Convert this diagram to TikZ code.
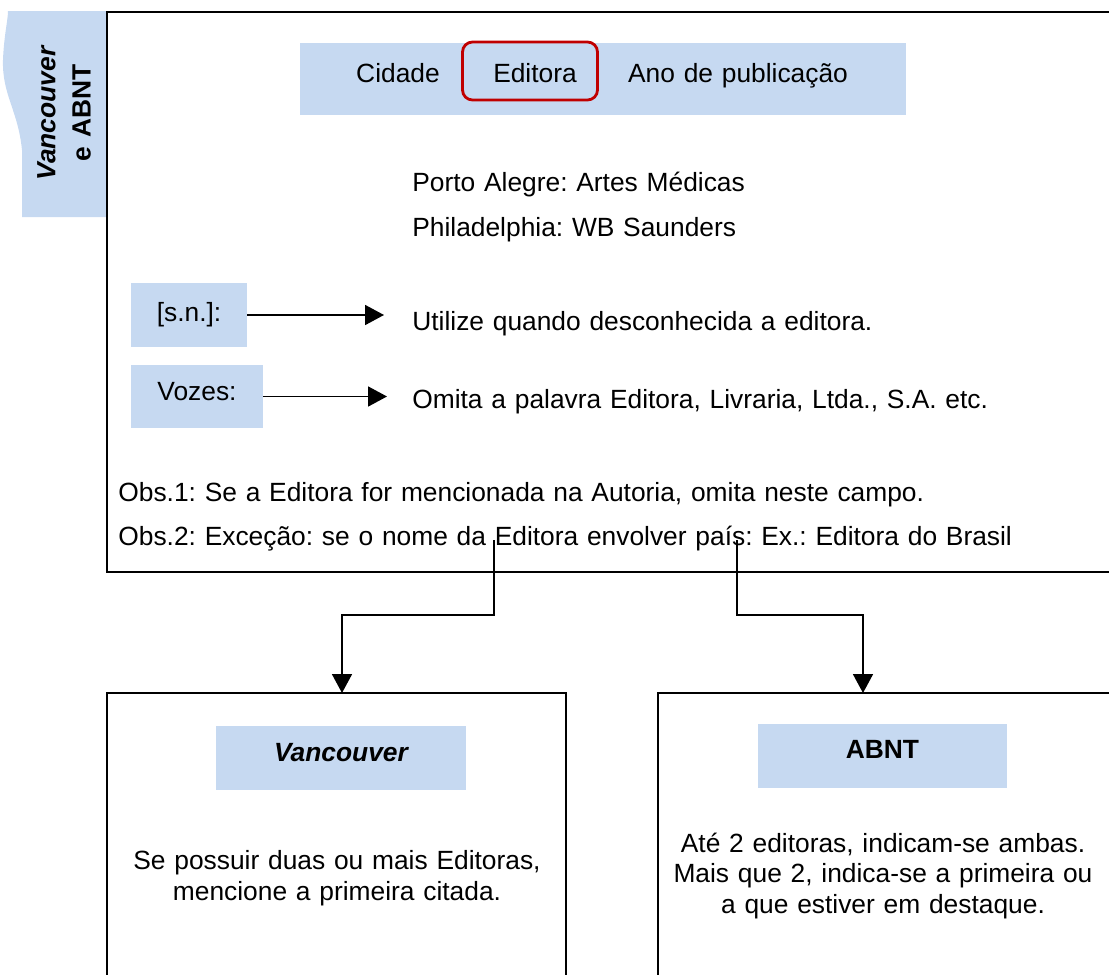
\documentclass[tikz,border=0pt]{standalone}
\usepackage{fontspec}
\setmainfont{Liberation Sans}[WordSpace=1.2]
\frenchspacing
\usetikzlibrary{arrows.meta}
\definecolor{tabBlue}{HTML}{C6D9F1}
\definecolor{markRed}{HTML}{C00000}

\begin{document}
\begin{tikzpicture}[
    x=0.02cm, y=-0.02cm,
    frame/.style={line width=1.1pt, black},
    lbox/.style={fill=tabBlue, inner sep=0pt},
    txt/.style={font=\fontsize{15}{17.6}\selectfont, inner sep=0pt},
    head/.style={lbox, font=\bfseries\fontsize{15}{18}\selectfont,
        minimum width=5cm, minimum height=1.28cm, text depth=0.23cm},
    arr/.style={-{Triangle[length=0.38cm, width=0.4cm]}, line width=1pt},
]
\useasboundingbox (0,0) rectangle (1109,974);
\clip (0,0) rectangle (1109,974);

% === Side tab ===
\fill[tabBlue] (8,11) -- (107,11) -- (107,217) -- (22,217) -- (22,150)
    .. controls (18,110) and (2,95) .. (3,60)
    .. controls (4,35) and (8,20) .. (8,11) -- cycle;
\node[rotate=90, align=center, inner sep=0pt,
    font=\bfseries\fontsize{15}{20}\selectfont] (tabtxt) at (64,113)
    {\textit{Vancouver}\\e ABNT};

% === Main frame ===
\draw[frame] (107,12) rectangle (1120,572);

% Top bar with the three fields
\node[lbox, minimum width=12.12cm, minimum height=1.44cm] (bar) at (603,79) {};
\node[draw=markRed, line width=1.6pt, rounded corners=0.2cm,
    minimum width=2.7cm, minimum height=1.16cm] (edbox) at (530,71) {};
\node[txt, anchor=base] (cid) at (398,82) {Cidade};
\node[txt, anchor=base] (edt) at (535,82) {Editora};
\node[txt, anchor=base] (ano) at (738,82) {Ano de publicação};

% Examples
\node[txt, anchor=base west] (porto) at (412,191) {Porto Alegre: Artes Médicas};
\node[txt, anchor=base west] (phila) at (412,236) {Philadelphia: WB Saunders};

% [s.n.] and Vozes rows
\node[lbox, txt, minimum width=2.32cm, minimum height=1.28cm] (snbox)
    at (189,315) {[s.n.]:};
\node[txt, anchor=base west] (util) at (412,330)
    {Utilize quando desconhecida a editora.};
\draw[arr, shorten >=0.56cm] (snbox.east) -- (snbox.east -| util.west);

\node[lbox, txt, minimum width=2.64cm, minimum height=1.26cm,
    text depth=0.2cm] (vozbox) at (197,396.5) {Vozes:};
\node[txt, anchor=base west] (omita) at (412,408)
    {Omita a palavra Editora, Livraria, Ltda., S.A. etc.};
\draw[arr, shorten >=0.5cm] (vozbox.east) -- (vozbox.east -| omita.west);

% Notes
\node[txt, anchor=base west] (obs1) at (118,501)
    {Obs.1: Se a Editora for mencionada na Autoria, omita neste campo.};
\node[txt, anchor=base west] (obs2) at (118,545)
    {Obs.2: Exceção: se o nome da Editora envolver país: Ex.: Editora do Brasil};

% === Bottom boxes ===
\draw[frame] (107,693) rectangle (566,1000);
\draw[frame] (658,693) rectangle (1120,1000);

\node[head] (vanc) at (341,758) {\itshape Vancouver};
\node[head] (abnt) at (882.5,755.5) {ABNT};

\node[txt, align=center] (vtxt) at (337,878)
    {Se possuir duas ou mais Editoras,\\mencione a primeira citada.};
\node[txt, align=center] (atxt) at (883,876)
    {Até 2 editoras, indicam-se ambas.\\Mais que 2, indica-se a primeira ou\\a que estiver em destaque.};

% Connectors
\coordinate (fromA) at (494,540);
\coordinate (fromB) at (737,540);
\coordinate (bendA) at (342,615);
\coordinate (bendB) at (863,615);
\coordinate (vtop) at (342,693);
\coordinate (atop) at (863,693);
\draw[arr] (fromA) |- (bendA) -- (vtop);
\draw[arr] (fromB) |- (bendB) -- (atop);

\end{tikzpicture}
\end{document}
